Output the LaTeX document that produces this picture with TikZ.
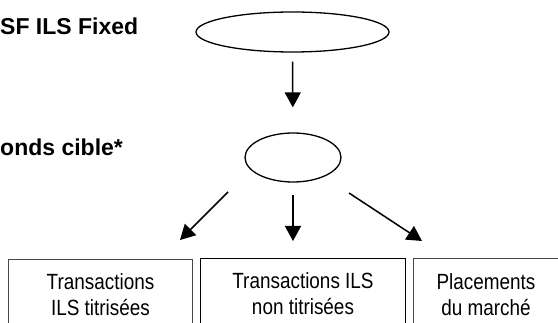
\documentclass[tikz,border=0pt]{standalone}
\usepackage{fontspec}
\setmainfont{Liberation Sans}
\newfontfamily\boxfont[FakeStretch=0.86]{Liberation Sans}
\usetikzlibrary{arrows.meta,shapes.geometric}
\tikzset{
  oval/.style={draw, ellipse, line width=1.3pt, inner sep=0pt},
  arr/.style={line width=1.5pt, -{Triangle[width=16pt,length=15pt]}},
  lbl/.style={anchor=base west, inner sep=0pt, font=\fontsize{23}{26}\selectfont\bfseries},
  cell/.style={draw, rectangle, line width=0.9pt, inner sep=0pt, align=center,
    minimum height=72pt, font=\boxfont\fontsize{22}{26}\selectfont},
}
\begin{document}
\begin{tikzpicture}[x=1pt,y=-1pt]
\useasboundingbox (0,0) rectangle (558,323);
\clip (0,0) rectangle (558,323);
\node[oval, minimum width=193pt, minimum height=40pt] (top) at (292.5,32) {};
\node[oval, minimum width=96pt, minimum height=49pt] (mid) at (293,157.5) {};
\node[lbl] (t1) at (0,35) {SF ILS Fixed};
\node[lbl] (t2) at (0,156) {onds cible*};
\node[cell, draw=black!72, minimum width=184pt] (b1) at (100.5,295) {Transactions\\ILS titrisées};
\node[cell, draw=black, minimum width=205pt] (b2) at (303,294) {Transactions ILS\\non titrisées};
\node[cell, draw=black!72, minimum width=146pt] (b3) at (486,294.5) {Placements\\du marché};
\draw[arr, shorten <=9pt, shorten >=25pt] (top.south) -- (mid.north);
\coordinate (l1s) at (228,192);
\coordinate (l1e) at (180,240);
\coordinate (m1s) at (293,195);
\coordinate (m1e) at (293,241);
\coordinate (r1s) at (349,193);
\coordinate (r1e) at (422,241);
\draw[arr] (l1s) -- (l1e);
\draw[arr] (m1s) -- (m1e);
\draw[arr] (r1s) -- (r1e);
\end{tikzpicture}
\end{document}
